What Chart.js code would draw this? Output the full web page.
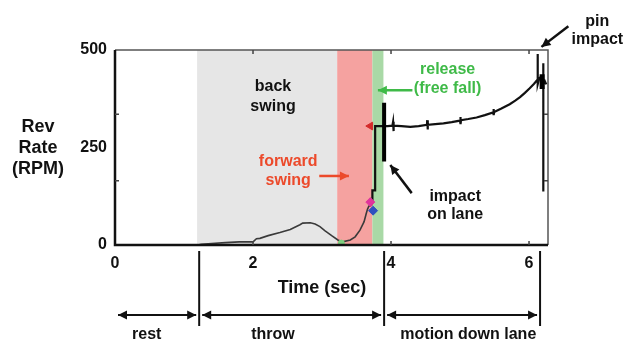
<!DOCTYPE html>
<html><head><meta charset="utf-8">
<script src="https://cdn.jsdelivr.net/npm/chart.js@4.4.1/dist/chart.umd.min.js"></script>
<style>html,body{margin:0;padding:0;background:#fff;}#wrap{width:627px;height:343px;}</style>
</head><body><div id="wrap"><canvas id="c" width="627" height="343"></canvas></div>
<script>
// ---- data ----
const xTicks = [0, 2, 4, 6];
const yTicks = [0, 250, 500];
const yMinorTicks = [165, 335];
const timeSec = [1.20,1.25,1.40,1.60,1.80,2.00,2.05,2.10,2.22,2.39,2.54,2.68,2.72,2.83,2.90,2.97,3.04,3.14,3.23,3.30,3.41,3.48,3.55,3.61,3.64,3.66,3.68,3.71,3.73,3.73,3.77,3.77,3.83,3.89,
  3.95,4.02,4.03,4.035,4.04,4.15,4.28,4.40,4.52,4.525,4.53,4.535,4.64,4.76,4.88,5.00,5.005,5.01,5.015,5.12,5.24,5.36,5.48,5.485,5.49,5.495,5.60,5.72,5.80,5.87,5.94,6.01,6.07,6.11,
  6.126,6.126,6.126,6.15,6.18,6.207,6.207,6.207,6.207,6.23,6.25];
const revRpm = [0,2,4,6,8,8,16,17,24,32,40,52,56,57,54,47,37,24,13,8,13,21,38,60,80,92,100,100,110,140,140,305,305,305,
  305,306,316,292,306,305,303,305,308,320,296,308,310,312,315,319,328,310,320,323,327,333,340,349,333,341,350,361,370,379,390,402,413,421,
  425,490,412,428,432,428,466,137,412,420,412];
const laneImpactTime = [3.90, 3.90];
const laneImpactRpm = [365, 214];
const pinImpactTime = [6.19, 6.19];
const pinImpactRpm = [438, 400];
const shadeStart = [1.19, 3.22, 3.73];
const shadeEnd = [3.22, 3.73, 3.89];
const phaseBounds = [0, 1.22, 3.90, 6.16];
const phaseNames = ['rest', 'throw', 'motion down lane'];
const phaseLabelTime = [0.46, 2.29, 5.12];
const markerTime = [3.28, 3.70, 3.74, 3.70];
const markerRpm = [5, 110, 88, 305];

const FONT = "'Liberation Sans', Arial, Helvetica, sans-serif";
const pts = (xs, ys) => xs.map((x, i) => ({x: x, y: ys[i]}));

function arrowHead(ctx, x1, y1, x2, y2, len, hw) {
  const a = Math.atan2(y2 - y1, x2 - x1);
  ctx.beginPath();
  ctx.moveTo(x2, y2);
  ctx.lineTo(x2 - len * Math.cos(a) + hw * Math.sin(a), y2 - len * Math.sin(a) - hw * Math.cos(a));
  ctx.lineTo(x2 - len * Math.cos(a) - hw * Math.sin(a), y2 - len * Math.sin(a) + hw * Math.cos(a));
  ctx.closePath();
  ctx.fill();
}
function arrow(ctx, x1, y1, x2, y2, color, w, both) {
  ctx.save();
  ctx.strokeStyle = color; ctx.fillStyle = color; ctx.lineWidth = w;
  ctx.beginPath(); ctx.moveTo(x1, y1); ctx.lineTo(x2, y2); ctx.stroke();
  arrowHead(ctx, x1, y1, x2, y2, 9, 4.5);
  if (both) arrowHead(ctx, x2, y2, x1, y1, 9, 4.5);
  ctx.restore();
}
function text(ctx, lines, x, y, gap, color, size) {
  ctx.save();
  ctx.fillStyle = color; ctx.font = 'bold ' + size + 'px ' + FONT;
  ctx.textAlign = 'center'; ctx.textBaseline = 'middle';
  lines.forEach((l, i) => ctx.fillText(l, x, y + i * gap));
  ctx.restore();
}

const decor = {
  id: 'decor',
  beforeDatasetsDraw(chart) {
    const {ctx, chartArea: a, scales: {x}} = chart;
    const cols = ['#e6e6e6', '#f5a2a0', '#a9d9a6'];
    ctx.save();
    shadeStart.forEach((s, i) => {
      const x0 = x.getPixelForValue(s), x1 = x.getPixelForValue(shadeEnd[i]);
      ctx.fillStyle = cols[i];
      ctx.fillRect(x0, a.top, x1 - x0, a.bottom - a.top);
    });
    ctx.restore();
  },
  afterDatasetsDraw(chart) {
    const {ctx, chartArea: a, scales: {x, y}} = chart;
    ctx.save();
    ctx.strokeStyle = '#555'; ctx.lineWidth = 1.5;
    ctx.beginPath(); ctx.moveTo(a.left, a.top); ctx.lineTo(a.right, a.top); ctx.lineTo(a.right, a.bottom); ctx.stroke();
    ctx.strokeStyle = '#111'; ctx.lineWidth = 2.5;
    ctx.beginPath(); ctx.moveTo(a.left, a.top); ctx.lineTo(a.left, a.bottom); ctx.lineTo(a.right, a.bottom); ctx.stroke();
    ctx.strokeStyle = '#444'; ctx.lineWidth = 1.5;
    xTicks.forEach(t => {
      if (t === 0) return;
      const px = x.getPixelForValue(t);
      ctx.beginPath(); ctx.moveTo(px, a.top); ctx.lineTo(px, a.top + 4);
      ctx.moveTo(px, a.bottom); ctx.lineTo(px, a.bottom - 4); ctx.stroke();
    });
    yMinorTicks.forEach(v => {
      const py = y.getPixelForValue(v);
      ctx.beginPath(); ctx.moveTo(a.left, py); ctx.lineTo(a.left + 4, py);
      ctx.moveTo(a.right, py); ctx.lineTo(a.right - 4, py); ctx.stroke();
    });
    ctx.restore();

    const X = t => x.getPixelForValue(t), Y = v => y.getPixelForValue(v);
    text(ctx, ['back', 'swing'], X(2.29), Y(406), 20, '#111', 16);
    text(ctx, ['forward', 'swing'], X(2.51), Y(214), 19, '#ec4a2b', 16);
    arrow(ctx, X(2.96), Y(177), X(3.39), Y(177), '#ec4a2b', 2.5, false);
    text(ctx, ['release', '(free fall)'], X(4.82), Y(451), 19, '#3fba48', 16);
    arrow(ctx, X(4.31), Y(397), X(3.81), Y(397), '#3fba48', 2.5, false);
    text(ctx, ['impact', 'on lane'], X(4.93), Y(124), 18, '#111', 16);
    arrow(ctx, X(4.30), Y(133), X(3.99), Y(205), '#111', 2.5, false);
    text(ctx, ['pin', 'impact'], X(6.99), Y(573), 18, '#111', 16);
    arrow(ctx, X(6.57), Y(561), X(6.18), Y(508), '#111', 2.5, false);

    text(ctx, ['Rev', 'Rate', '(RPM)'], a.left - 77, Y(250) - 20, 21, '#111', 18);
    text(ctx, ['Time (sec)'], X(3.0), a.bottom + 43, 0, '#111', 18);

    ctx.save();
    ctx.strokeStyle = '#111'; ctx.lineWidth = 2;
    phaseBounds.slice(1).forEach(t => {
      const px = X(t);
      ctx.beginPath(); ctx.moveTo(px, a.bottom + 6); ctx.lineTo(px, a.bottom + 81); ctx.stroke();
    });
    ctx.restore();
    phaseNames.forEach((n, i) => {
      const x0 = X(phaseBounds[i]) + 3, x1 = X(phaseBounds[i + 1]) - 3;
      arrow(ctx, x0, a.bottom + 70, x1, a.bottom + 70, '#111', 2, true);
      text(ctx, [n], X(phaseLabelTime[i]), a.bottom + 90, 0, '#111', 16);
    });
  }
};

new Chart(document.getElementById('c'), {
  type: 'scatter',
  data: {
    datasets: [
      {data: pts(timeSec, revRpm), showLine: true, borderColor: '#151515', borderWidth: 2, pointRadius: 0, tension: 0, order: 3,
       segment: {
         borderColor: c => c.p1.parsed.x < 3.72 ? '#3a3a3a' : '#111',
         borderWidth: c => c.p1.parsed.x < 3.72 ? 1.6 : 2.2
       }},
      {data: pts(laneImpactTime, laneImpactRpm), showLine: true, borderColor: '#000', borderWidth: 4, pointRadius: 0, order: 2},
      {data: pts(pinImpactTime, pinImpactRpm), showLine: true, borderColor: '#000', borderWidth: 5, pointRadius: 0, order: 2},
      {data: pts(markerTime, markerRpm), showLine: false, pointRadius: [3, 4.5, 4.5, 4.5],
       pointStyle: ['circle', 'rectRot', 'rectRot', 'triangle'], pointRotation: [0, 0, 0, -90],
       backgroundColor: ['#7fcf7f', '#e0359c', '#2f4fbf', '#d42a2a'], borderColor: ['#7fcf7f', '#e0359c', '#2f4fbf', '#d42a2a'], borderWidth: 1, order: 1}
    ]
  },
  options: {
    responsive: false,
    animation: false,
    devicePixelRatio: 1,
    layout: {padding: {left: 75, right: 79, top: 50, bottom: 68}},
    plugins: {legend: {display: false}, tooltip: {enabled: false}},
    scales: {
      x: {
        type: 'linear', min: 0, max: 6.275,
        grid: {display: false, drawTicks: false}, border: {display: false},
        afterBuildTicks: s => { s.ticks = xTicks.map(v => ({value: v})); },
        afterFit: s => { s.height = 30; },
        ticks: {padding: 9, color: '#111', font: {family: FONT, size: 16, weight: 'bold'}, maxRotation: 0}
      },
      y: {
        type: 'linear', min: 0, max: 500,
        grid: {display: false, drawTicks: false}, border: {display: false},
        afterBuildTicks: s => { s.ticks = yTicks.map(v => ({value: v})); },
        afterFit: s => { s.width = 40; },
        ticks: {padding: 8, color: '#111', font: {family: FONT, size: 16, weight: 'bold'}}
      }
    }
  },
  plugins: [decor]
});
</script></body></html>
